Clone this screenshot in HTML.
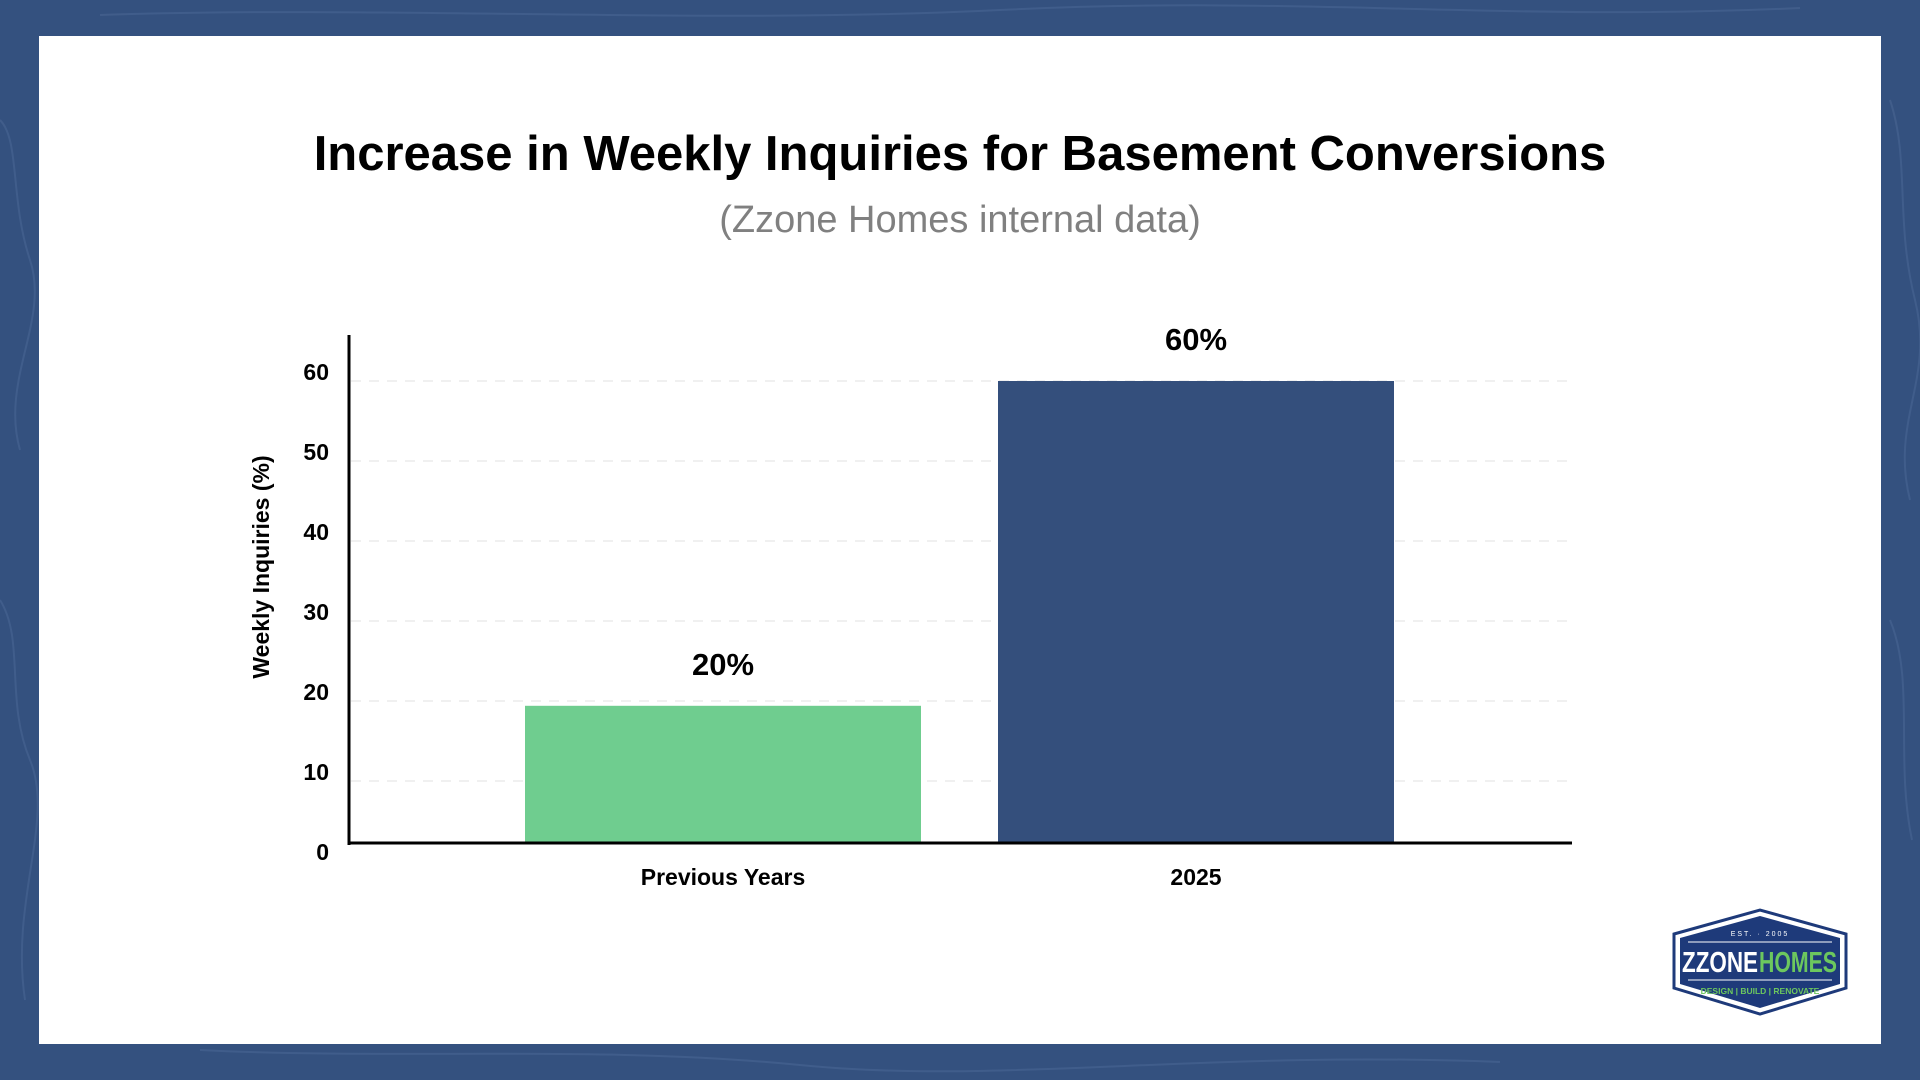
<!DOCTYPE html>
<html><head><meta charset="utf-8"><style>
body{margin:0;width:1920px;height:1080px;background:#34517f;overflow:hidden;font-family:"Liberation Sans","DejaVu Sans",sans-serif}
#card{position:absolute;left:39px;top:36px;width:1842px;height:1008px;background:#fff}
</style></head><body>
<svg width="1920" height="1080" style="position:absolute;left:0;top:0">
<g fill="none" stroke="#4a6592" stroke-width="2" opacity="0.6">
<path d="M0 120 C 20 140, 10 200, 30 260 S 0 380, 20 450"/><path d="M0 600 C 25 640, 5 700, 30 760 S 10 900, 25 1000"/>
<path d="M1890 100 C 1910 160, 1895 220, 1915 300 S 1890 420, 1910 500"/><path d="M1890 620 C 1915 680, 1895 760, 1912 840"/>
<path d="M200 1050 C 400 1060, 600 1045, 800 1065 S 1200 1050, 1500 1062"/><path d="M100 15 C 400 5, 700 25, 1000 10 S 1500 22, 1800 8"/>
</g></svg>
<div id="card"></div>
<svg id="chart" width="1920" height="1080" style="position:absolute;left:0;top:0">
<text x="960" y="170" text-anchor="middle" font-size="49" font-weight="bold" fill="#000">Increase in Weekly Inquiries for Basement Conversions</text>
<text x="960" y="232" text-anchor="middle" font-size="38" fill="#808080">(Zzone Homes internal data)</text>
<text transform="translate(269,567) rotate(-90)" text-anchor="middle" font-size="23" font-weight="bold" fill="#000">Weekly Inquiries (%)</text>
<g id="grid"></g><g id="bars"></g><g id="ticks"></g>
<line x1="349" y1="335" x2="349" y2="845" stroke="#000" stroke-width="3"/>
<line x1="348" y1="843" x2="1572" y2="843" stroke="#000" stroke-width="3"/>
</svg>
<svg width="180" height="110" style="position:absolute;left:1670px;top:908px">
<polygon points="4,26 90,2 176,26 176,80 90,106 4,80" fill="#fff" stroke="#1e3a7a" stroke-width="3"/>
<polygon points="10,30 90,8 170,30 170,76 90,100 10,76" fill="#1e3a7a"/>
<text x="90" y="28" text-anchor="middle" font-size="7" fill="#fff" letter-spacing="2">EST. · 2005</text>
<line x1="18" y1="34" x2="162" y2="34" stroke="#fff" stroke-width="1"/>
<text x="12" y="64" font-size="29" font-weight="bold" fill="#fff" textLength="76" lengthAdjust="spacingAndGlyphs">ZZONE</text>
<text x="89" y="64" font-size="29" font-weight="bold" fill="#6cc75e" textLength="78" lengthAdjust="spacingAndGlyphs">HOMES</text>
<line x1="18" y1="72" x2="162" y2="72" stroke="#fff" stroke-width="1"/>
<text x="90" y="86" text-anchor="middle" font-size="8.5" font-weight="bold" fill="#6cc75e">DESIGN | BUILD | RENOVATE</text>
</svg>
<script>
const categories=["Previous Years","2025"];
const values=[19.4,60];
const valueLabels=["20%","60%"];
const colors=["#6fcd8f","#344f7c"];
const tickValues=[0,10,20,30,40,50,60];
const NS="http://www.w3.org/2000/svg";
const yScale=v=>861-v*8;
const baseY=843;
const bandX=i=>525+i*473;
const barW=396;
const grid=document.getElementById('grid'),bars=document.getElementById('bars'),ticks=document.getElementById('ticks');
tickValues.forEach(v=>{
 if(v>0){const l=document.createElementNS(NS,'line');
 l.setAttribute('x1',351);l.setAttribute('x2',1572);l.setAttribute('y1',yScale(v));l.setAttribute('y2',yScale(v));
 l.setAttribute('stroke','#ececec');l.setAttribute('stroke-dasharray','10 8');l.setAttribute('stroke-width','1.5');
 
 
 grid.appendChild(l);}
 const t=document.createElementNS(NS,'text');
 t.setAttribute('x',329);t.setAttribute('y',yScale(v)-1);t.setAttribute('text-anchor','end');
 t.setAttribute('font-size','23');t.setAttribute('font-weight','bold');t.textContent=v;
 
 
 ticks.appendChild(t);
});
categories.forEach((c,i)=>{
 const r=document.createElementNS(NS,'rect');
 const top=yScale(values[i]);
 r.setAttribute('x',bandX(i));r.setAttribute('width',barW);r.setAttribute('y',top);
 r.setAttribute('height',Math.max(0,baseY-top));r.setAttribute('fill',colors[i]);
 
 
 bars.appendChild(r);
 const vl=document.createElementNS(NS,'text');
 vl.setAttribute('x',bandX(i)+barW/2);vl.setAttribute('y',top-31);vl.setAttribute('text-anchor','middle');
 vl.setAttribute('font-size','31');vl.setAttribute('font-weight','bold');vl.textContent=valueLabels[i];
 
 
 bars.appendChild(vl);
 const cl=document.createElementNS(NS,'text');
 cl.setAttribute('x',bandX(i)+barW/2);cl.setAttribute('y',885);cl.setAttribute('text-anchor','middle');
 cl.setAttribute('font-size','23');cl.setAttribute('font-weight','bold');cl.textContent=c;
 
 
 ticks.appendChild(cl);
});
</script>
</body></html>
